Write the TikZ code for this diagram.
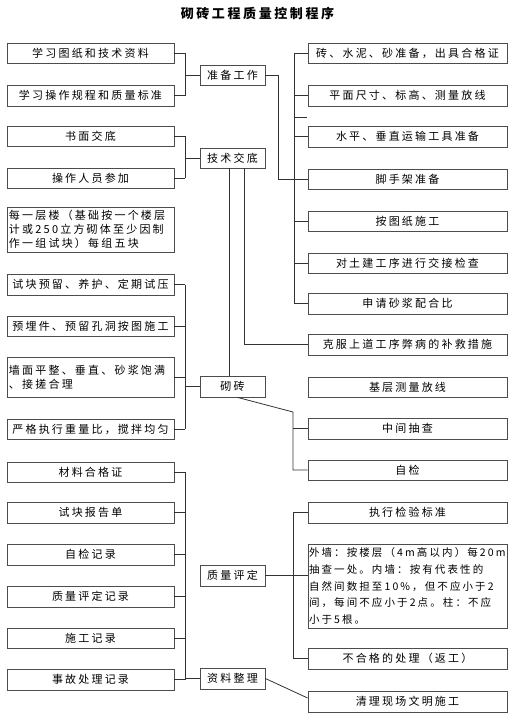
\documentclass[tikz,border=0pt]{standalone}
\usepackage{fontspec}
\setmainfont[LetterSpace=20]{Noto Sans CJK SC}
\usepackage{tikz}

\tikzset{
  box/.style={draw=black!70, line width=0.8pt, minimum height=20pt, inner sep=1pt,
    font=\fontsize{11}{14}\selectfont},
  lbox/.style={box, minimum width=167pt},
  mbox/.style={box, minimum width=65pt},
  rbox/.style={box, minimum width=199pt},
  link/.style={draw=black!80, line width=0.8pt},
}

\begin{document}
\begin{tikzpicture}[x=1pt, y=-1pt]
    \useasboundingbox (0,0) rectangle (515,718);

    % Title
    \node[font=\fontsize{13}{15}\selectfont\bfseries] (title) at (257.5,14) {砌砖工程质量控制程序};

    % Bus positions
    \coordinate (bl) at (185,0);
    \coordinate (ba) at (278,0);
    \coordinate (br) at (294,0);
    \coordinate (bs) at (293,0);
    \coordinate (bq) at (293,412);
    \coordinate (stub) at (307,117);

    % Left column
    \node[lbox] (L1) at (90.5,53) {学习图纸和技术资料};
    \node[lbox, minimum height=21] (L2) at (90.5,95.5) {学习操作规程和质量标准};
    \node[lbox] (L3) at (90.5,136) {书面交底};
    \node[lbox] (L4) at (90.5,178) {操作人员参加};
    \node[lbox, minimum height=45, text width=163, align=left] (L5) at (90.5,229.5)
        {每一层楼（基础按一个楼层\\计或250立方砌体至少因制\\作一组试块）每组五块};
    \node[lbox, minimum height=21] (L6) at (90.5,284.5) {试块预留、养护、定期试压};
    \node[lbox] (L7) at (90.5,326.5) {预埋件、预留孔洞按图施工};
    \node[lbox, minimum height=40, text width=163, align=left] (L8) at (90.5,377)
        {墙面平整、垂直、砂浆饱满\\、接搓合理};
    \node[lbox] (L9) at (90.5,429) {严格执行重量比，搅拌均匀};
    \node[lbox] (L10) at (90.5,472) {材料合格证};
    \node[lbox, minimum height=21] (L11) at (90.5,512.5) {试块报告单};
    \node[lbox, minimum height=21] (L12) at (90.5,554.5) {自检记录};
    \node[lbox, minimum height=21] (L13) at (90.5,596.5) {质量评定记录};
    \node[lbox] (L14) at (90.5,638) {施工记录};
    \node[lbox, minimum height=21] (L15) at (90.5,679.5) {事故处理记录};

    % Middle column
    \node[mbox] (M1) at (232.5,75) {准备工作};
    \node[mbox] (M2) at (232.5,158) {技术交底};
    \node[mbox, minimum height=21] (M3) at (232.5,386.5) {砌砖};
    \node[mbox, minimum height=21] (M4) at (232.5,575.5) {质量评定};
    \node[mbox, minimum height=21] (M5) at (232.5,678.5) {资料整理};

    % Right column
    \node[rbox] (R1) at (407.5,53) {砖、水泥、砂准备，出具合格证};
    \node[rbox, minimum height=21] (R2) at (407.5,95.5) {平面尺寸、标高、测量放线};
    \node[rbox, minimum height=21] (R3) at (407.5,136.5) {水平、垂直运输工具准备};
    \node[rbox] (R4) at (407.5,179) {脚手架准备};
    \node[rbox] (R5) at (407.5,221.5) {按图纸施工};
    \node[rbox] (R6) at (407.5,263) {对土建工序进行交接检查};
    \node[rbox, minimum height=21] (R7) at (407.5,303.5) {申请砂浆配合比};
    \node[rbox, minimum height=21] (R8) at (407.5,344.5) {克服上道工序弊病的补救措施};
    \node[rbox] (R9) at (407.5,387) {基层测量放线};
    \node[rbox, minimum height=21] (R10) at (407.5,428.5) {中间抽查};
    \node[rbox] (R11) at (407.5,470) {自检};
    \node[rbox, minimum height=21] (R12) at (407.5,512.5) {执行检验标准};
    \node[rbox, minimum height=84, text width=197, align=left,
          font=\fontsize{10.5}{16.6}\selectfont] (R13) at (407.5,586)
        {外墙：按楼层（4m高以内）每20m\\抽查一处。内墙：按有代表性的\\自然间数担至10\%，但不应小于2\\间，每间不应小于2点。柱：不应\\小于5根。};
    \node[rbox, minimum height=21] (R14) at (407.5,658.5) {不合格的处理（返工）};
    \node[rbox, minimum height=21] (R15) at (407.5,701.5) {清理现场文明施工};

    % Inputs to 准备工作 and its outputs
    \foreach \n in {L1, L2} {
        \draw[link] (\n.east) -- (\n.east -| bl);
    }
    \draw[link] (L1.east -| bl) -- (L2.east -| bl);
    \draw[link] (M1.west) -- (M1.west -| bl);
    \draw[link] (M1.east) -- (M1.east -| ba) |- (R4.west);
    \foreach \n in {R1, R2, R3, R5, R6, R7} {
        \draw[link] (\n.west) -- (\n.west -| br);
    }
    \draw[link] (R1.west -| br) -- (R7.west -| br);
    \draw[link] (stub) -- (stub -| br);

    % 技术交底
    \foreach \n in {L3, L4} {
        \draw[link] (\n.east) -- (\n.east -| bl);
    }
    \draw[link] (L3.east -| bl) -- (L4.east -| bl);
    \draw[link] (M2.west) -- (M2.west -| bl);
    \draw[link] ([xshift=11.5]M2.south) |- (R8.west);
    \draw[link] ([xshift=-3.5]M2.south) -- ([xshift=-3.5]M3.north);

    % 砌砖
    \foreach \n in {L6, L7, L8, L9} {
        \draw[link] (\n.east) -- (\n.east -| bl);
    }
    \draw[link] (L6.east -| bl) -- (L9.east -| bl);
    \draw[link] (M3.west) -- (M3.west -| bl);
    \draw[link] ([xshift=5]M3.south) -- (bq) |- (R11.west);
    \draw[link] (R10.west) -- (R10.west -| bq);

    % Records and 资料整理
    \foreach \n in {L10, L11, L12, L13, L14, L15} {
        \draw[link] (\n.east) -- (\n.east -| bl);
    }
    \draw[link] (L10.east -| bl) -- (L15.east -| bl);
    \draw[link] (M5.west) -- (M5.west -| bl);
    \draw[link] (M5.east) -- ([yshift=3.5]R15.west);

    % 质量评定
    \draw[link] (M4.east) -- (M4.east -| R13.west);
    \draw[link] (R12.west) -- (R12.west -| bs) |- (R14.west);
\end{tikzpicture}
\end{document}
